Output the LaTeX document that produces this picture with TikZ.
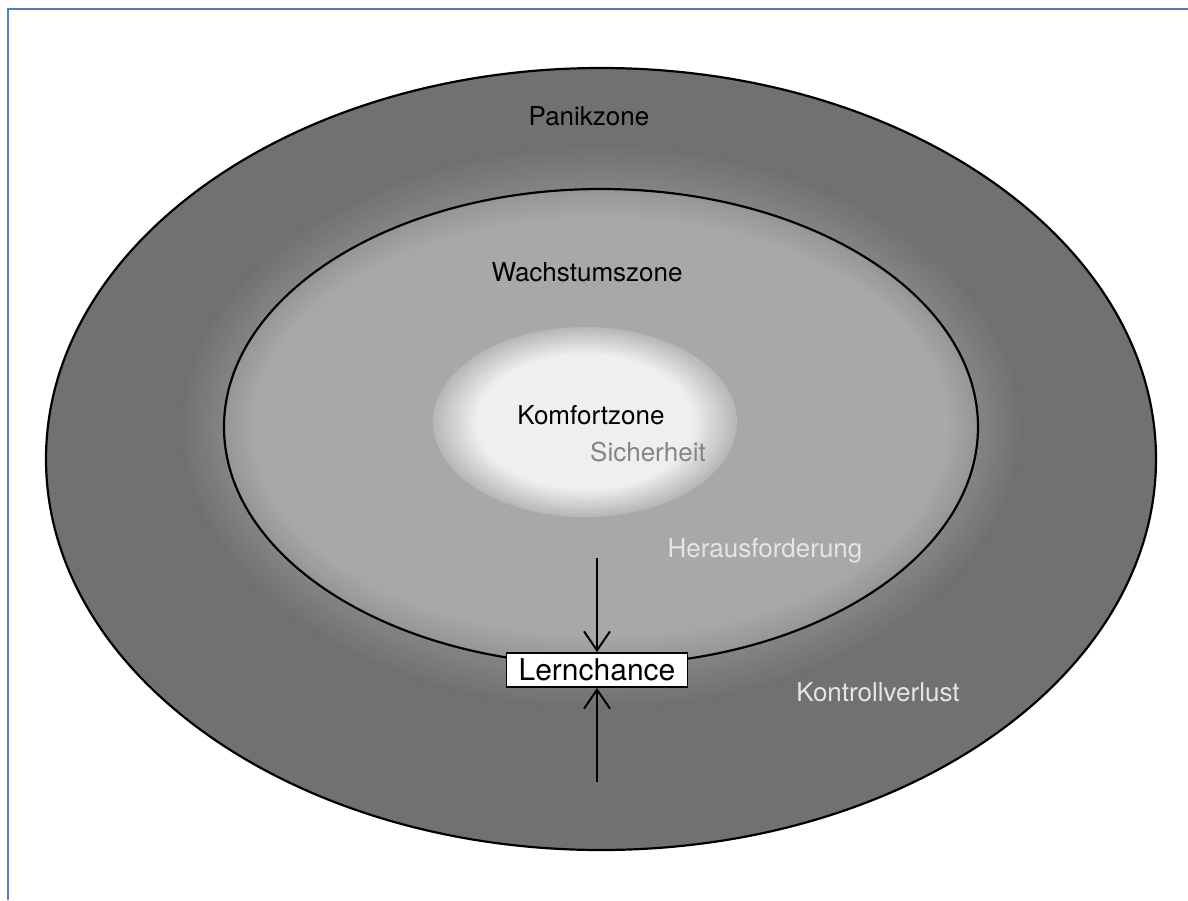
\documentclass[tikz,border=0pt]{standalone}
\usepackage{fontspec}
\setmainfont{TeX Gyre Heros}
\usetikzlibrary{arrows.meta}
\definecolor{frameblue}{HTML}{4F81BD}
\definecolor{panik}{HTML}{717171}
\tikzset{
  zonelabel/.style={font=\fontsize{26}{30}\selectfont},
  zoneline/.style={draw=black, line width=2.2pt},
  pfeil/.style={-{Straight Barb[length=19pt,width=26pt]}, line width=2pt},
}
\begin{document}
\begin{tikzpicture}[x=1pt, y=-1pt]
  \useasboundingbox (0,0) rectangle (1188,900);
  \draw[frameblue, line width=2.6pt] (8,900) -- (8,9) -- (1188,9);

  \fill[panik] (601,459) ellipse [x radius=555, y radius=391];
  \foreach \i in {0,...,14} {
    \pgfmathsetmacro{\g}{44+0.55*\i}
    \fill[white!\g!black] (601,427) ellipse [x radius=422-3*\i, y radius=283-3*\i];
  }
  \foreach \i in {0,...,10} {
    \pgfmathsetmacro{\g}{59+0.7*\i}
    \fill[white!\g!black] (601,427) ellipse [x radius=377-3*\i, y radius=238-3*\i];
  }
  \foreach \i in {0,...,23} {
    \pgfmathsetmacro{\s}{1-0.0125*\i}
    \pgfmathsetmacro{\g}{72+0.95*\i}
    \fill[white!\g!black] (585,422) ellipse [x radius=152*\s, y radius=95*\s];
  }
  \draw[zoneline] (601,459) ellipse [x radius=555, y radius=391];
  \draw[zoneline] (601,427) ellipse [x radius=377, y radius=238];

  \node[zonelabel] (panikzone) at (589,116) {Panikzone};
  \node[zonelabel] (wachstum) at (587,272) {Wachstumszone};
  \node[zonelabel] (komfort) at (591,415) {Komfortzone};
  \node[zonelabel, text=white!52!black] (sicherheit) at (648,452) {Sicherheit};
  \node[zonelabel, text=white!90!black] (herausforderung) at (765,551) {Herausforderung};
  \node[zonelabel, text=white!90!black] (kontrollverlust) at (878,692) {Kontrollverlust};

  \node[draw, fill=white, line width=1.8pt, minimum width=181pt, minimum height=34pt,
        inner sep=0pt, font=\fontsize{30}{34}\selectfont] (lern) at (597,670) {Lernchance};
  \coordinate (oben) at (597,558);
  \coordinate (unten) at (597,782);
  \draw[pfeil] (oben) -- (lern.north);
  \draw[pfeil] (unten) -- (lern.south);
\end{tikzpicture}
\end{document}
